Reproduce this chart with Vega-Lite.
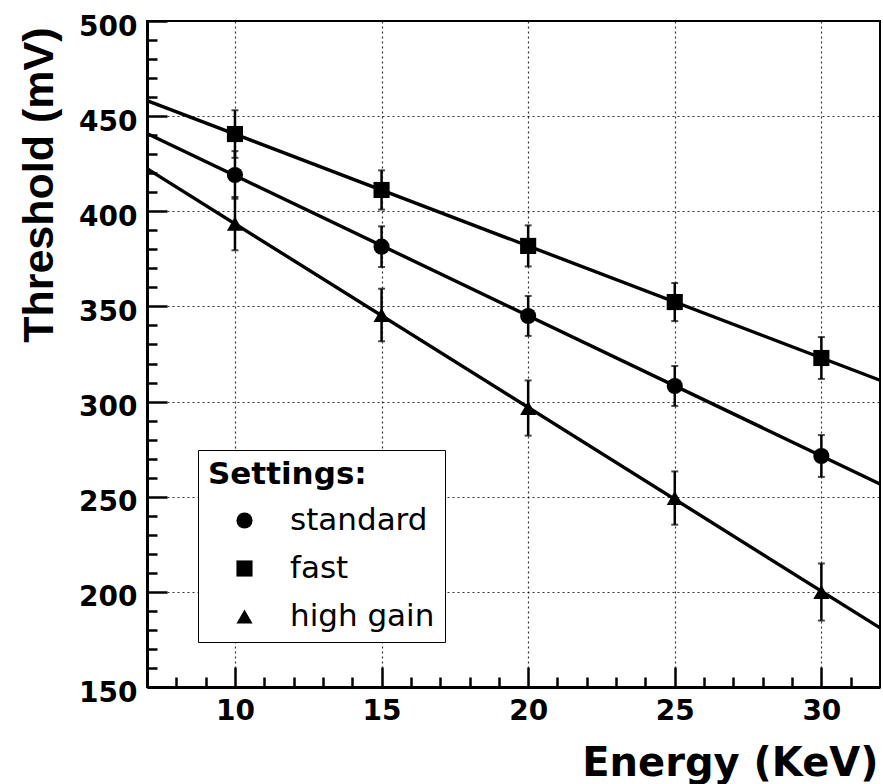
{
  "$schema": "https://vega.github.io/schema/vega-lite/v6.json",
  "autosize": "none",
  "width": 733,
  "height": 666,
  "padding": {"left": 147, "top": 21, "right": 3, "bottom": 97},
  "background": "white",
  "view": {"stroke": "black", "strokeWidth": 2},
  "config": {
    "font": "DejaVu Sans",
    "axis": {"labelColor": "black", "titleColor": "black", "domain": false, "grid": false, "tickColor": "black"}
  },
  "datasets": {
    "pts": [
      {"setting": "standard", "energy": 10, "threshold": 419.1, "lo": 406.6, "hi": 431.6},
      {"setting": "standard", "energy": 15, "threshold": 381.4, "lo": 370.7, "hi": 392.1},
      {"setting": "standard", "energy": 20, "threshold": 345.0, "lo": 334.5, "hi": 355.5},
      {"setting": "standard", "energy": 25, "threshold": 308.2, "lo": 297.7, "hi": 318.7},
      {"setting": "standard", "energy": 30, "threshold": 271.4, "lo": 260.4, "hi": 282.4},
      {"setting": "fast", "energy": 10, "threshold": 440.6, "lo": 428.1, "hi": 453.1},
      {"setting": "fast", "energy": 15, "threshold": 411.2, "lo": 400.9, "hi": 421.5},
      {"setting": "fast", "energy": 20, "threshold": 381.8, "lo": 371.0, "hi": 392.6},
      {"setting": "fast", "energy": 25, "threshold": 352.3, "lo": 342.3, "hi": 362.3},
      {"setting": "fast", "energy": 30, "threshold": 322.9, "lo": 311.9, "hi": 333.9},
      {"setting": "high gain", "energy": 10, "threshold": 393.5, "lo": 379.5, "hi": 407.5},
      {"setting": "high gain", "energy": 15, "threshold": 345.5, "lo": 331.7, "hi": 359.3},
      {"setting": "high gain", "energy": 20, "threshold": 296.6, "lo": 282.1, "hi": 311.1},
      {"setting": "high gain", "energy": 25, "threshold": 249.3, "lo": 235.3, "hi": 263.3},
      {"setting": "high gain", "energy": 30, "threshold": 199.9, "lo": 184.9, "hi": 214.9}
    ],
    "fit": [
      {"setting": "standard", "energy": 7, "threshold": 440.9},
      {"setting": "standard", "energy": 32, "threshold": 256.7},
      {"setting": "fast", "energy": 7, "threshold": 458.2},
      {"setting": "fast", "energy": 32, "threshold": 311.2},
      {"setting": "high gain", "energy": 7, "threshold": 422.4},
      {"setting": "high gain", "energy": 32, "threshold": 181.1}
    ]
  },
  "resolve": {"axis": {"x": "independent", "y": "independent"}},
  "layer": [
    {
      "data": {"name": "fit"},
      "mark": {"type": "line", "color": "black", "strokeWidth": 3.4},
      "encoding": {
        "x": {"field": "energy", "type": "quantitative", "scale": {"domain": [7, 32], "nice": false, "zero": false},
          "axis": {"orient": "bottom", "title": "Energy (KeV)", "values": [10, 15, 20, 25, 30], "ticks": false, "grid": true,
            "gridColor": "black", "gridDash": [2, 3], "gridWidth": 1.2, "gridOpacity": 0.8,
            "domain": true, "domainColor": "black", "domainWidth": 3,
            "labelFont": "DejaVu Sans", "labelFontWeight": "bold", "labelFontSize": 28, "labelPadding": 10,
            "titleFont": "DejaVu Sans", "titleFontWeight": "bold", "titleFontSize": 40,
            "titleAnchor": "end", "titleAlign": "right", "titleX": 731, "titleY": 88, "titleBaseline": "alphabetic"}},
        "y": {"field": "threshold", "type": "quantitative", "scale": {"domain": [150, 500], "nice": false, "zero": false},
          "axis": {"orient": "left", "title": "Threshold (mV)", "values": [150, 200, 250, 300, 350, 400, 450, 500], "ticks": false, "grid": true,
            "gridColor": "black", "gridDash": [2, 3], "gridWidth": 1.2, "gridOpacity": 0.8,
            "domain": true, "domainColor": "black", "domainWidth": 3,
            "labelFont": "DejaVu Sans", "labelFontWeight": "bold", "labelFontSize": 28, "labelPadding": 10, "labelOffset": 6,
            "titleFont": "Liberation Sans", "titleFontWeight": "bold", "titleFontSize": 43,
            "titleAngle": -90, "titleAlign": "right", "titleBaseline": "alphabetic", "titleX": -95, "titleY": 6}},
        "detail": {"field": "setting"}
      }
    },
    {
      "data": {"name": "pts"},
      "mark": {"type": "rule", "color": "black", "strokeWidth": 2.5},
      "encoding": {
        "x": {"field": "energy", "type": "quantitative",
          "axis": {"orient": "bottom", "title": null, "labels": false, "grid": false, "domain": false, "values": [10, 15, 20, 25, 30], "offset": -20, "tickSize": 20, "tickColor": "black", "tickWidth": 2.5}},
        "y": {"field": "lo", "type": "quantitative",
          "axis": {"orient": "left", "title": null, "labels": false, "grid": false, "domain": false, "values": [150, 200, 250, 300, 350, 400, 450, 500], "offset": -20, "tickSize": 20, "tickColor": "black", "tickWidth": 2.5}},
        "y2": {"field": "hi"}
      }
    },
    {
      "data": {"name": "pts"},
      "mark": {"type": "tick", "color": "black", "orient": "horizontal", "size": 7, "thickness": 2},
      "encoding": {
        "x": {"field": "energy", "type": "quantitative",
          "axis": {"orient": "bottom", "title": null, "labels": false, "grid": false, "domain": false,
            "values": [8, 9, 11, 12, 13, 14, 16, 17, 18, 19, 21, 22, 23, 24, 26, 27, 28, 29, 31], "offset": -10, "tickSize": 10, "tickColor": "black", "tickWidth": 2.5}},
        "y": {"field": "lo", "type": "quantitative",
          "axis": {"orient": "left", "title": null, "labels": false, "grid": false, "domain": false,
            "values": [160, 170, 180, 190, 210, 220, 230, 240, 260, 270, 280, 290, 310, 320, 330, 340, 360, 370, 380, 390, 410, 420, 430, 440, 460, 470, 480, 490], "offset": -10, "tickSize": 10, "tickColor": "black", "tickWidth": 2.5}}
      }
    },
    {
      "data": {"name": "pts"},
      "mark": {"type": "tick", "color": "black", "orient": "horizontal", "size": 7, "thickness": 2},
      "encoding": {
        "x": {"field": "energy", "type": "quantitative", "axis": null},
        "y": {"field": "hi", "type": "quantitative", "axis": null}
      }
    },
    {
      "data": {"name": "pts"},
      "mark": {"type": "point", "filled": true, "color": "black", "opacity": 1, "size": 260},
      "encoding": {
        "x": {"field": "energy", "type": "quantitative", "axis": null},
        "y": {"field": "threshold", "type": "quantitative", "axis": null},
        "shape": {"field": "setting", "type": "nominal",
          "scale": {"domain": ["standard", "fast", "high gain"], "range": ["circle", "square", "triangle-up"]},
          "legend": {"title": "Settings:", "orient": "none", "legendX": 51, "legendY": 429, "direction": "vertical",
            "strokeColor": "black", "fillColor": "white", "padding": 10,
            "titleFont": "DejaVu Sans", "titleFontWeight": "bold", "titleFontSize": 31, "titleColor": "black", "titlePadding": 14,
            "labelFont": "DejaVu Sans", "labelFontSize": 31, "labelColor": "black", "labelOffset": 30,
            "symbolSize": 260, "symbolFillColor": "black", "symbolStrokeColor": "black", "symbolOffset": 21,
            "rowPadding": 16}}
      }
    }
  ]
}
